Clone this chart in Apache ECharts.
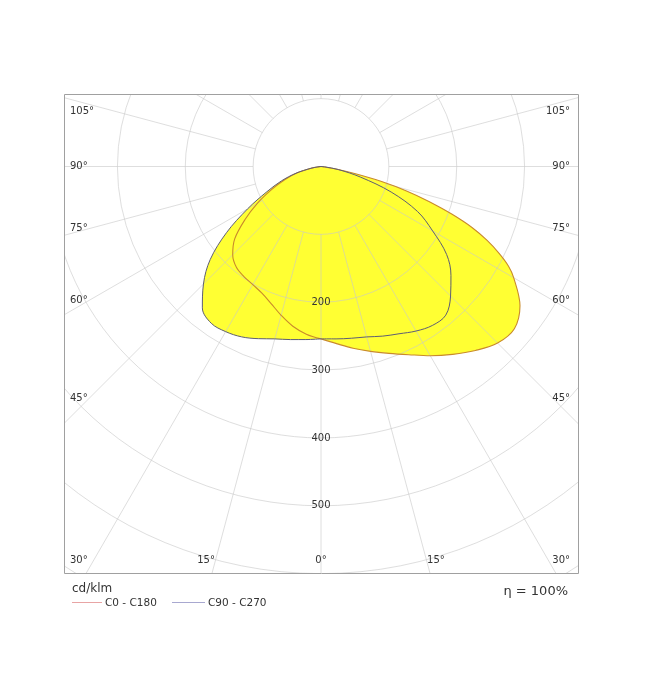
<!DOCTYPE html>
<html><head><meta charset="utf-8">
<script src="https://cdn.jsdelivr.net/npm/echarts@6/dist/echarts.min.js"></script>
<style>html,body{margin:0;padding:0;background:#fff}#c{width:670px;height:692px}</style>
</head><body><div id="c"></div>
<script>
// ---- data (cd/klm), gamma angle from nadir in degrees ----
const c0Angles   = [0,5,10,15,20,25,30,35,40,45,50,55,60,62,64,66,68,70,72,74,76,78,80,85,90,180];
const c0Values   = [254,262,272,282,293,306,322,338,354,368,372,358,328,313,292,268,240,205,168,132,92,52,24,3,0,0];
const c180Angles = [0,5,10,15,20,25,30,35,40,45,50,55,60,65,70,75,80,85,90,180];
const c180Values = [254,248,239,227,215,206,201,198,194,184,166,137,108,80,57,36,14,2,0,0];
const c90Angles  = [0,5,10,15,20,25,30,35,40,45,50,55,60,65,70,75,80,85,90,180];
const c90Values  = [254,255,257,260,266,272,280,286,286,270,250,226,190,157,110,60,26,5,0,0];
const c270Angles = [0,5,10,15,20,25,30,35,40,45,50,55,60,65,70,75,80,85,90,180];
const c270Values = [254,256,259,263,270,277,281,282,272,245,213,170,125,88,62,38,15,3,0,0];
const seriesNames = ['C0 - C180','C90 - C270'];
const radiusLabels = [200,300,400,500];
const sideAngles = [105,90,75,60,45,30];
const bottomAngles = [15,0];
const efficiency = 'η = 100%';
const unitLabel = 'cd/klm';

// ---- layout ----
const cx = 321, cy = 166.5, R = 475, rMax = 700;
const frame = {x:64, y:94, w:514, h:479};
const FONT = '"DejaVu Sans", Verdana, sans-serif';

function loop(rightA, rightV, leftA, leftV){
  const pts = [];
  for (let i=0;i<rightA.length;i++) pts.push([rightV[i], rightA[i]]);
  for (let i=leftA.length-1;i>=0;i--) pts.push([leftV[i], 360-leftA[i]]);
  return pts;
}
const loopA = loop(c0Angles,c0Values,c180Angles,c180Values);
const loopB = loop(c90Angles,c90Values,c270Angles,c270Values);

const gridColor = 'rgba(200,200,200,0.6)';
const yellow = '#ffff33';

const graphics = [];
[[0,0,670,frame.y],[0,frame.y+frame.h,670,692],[0,0,frame.x,692],[frame.x+frame.w,0,670,692]].forEach(r=>{
  graphics.push({type:'rect', z:100, silent:true, shape:{x:r[0],y:r[1],width:r[2]-r[0],height:r[3]-r[1]}, style:{fill:'#fff'}});
});
graphics.push({type:'rect', z:101, silent:true, shape:{x:frame.x+0.5,y:frame.y+0.5,width:frame.w,height:frame.h}, style:{fill:'none',stroke:'#a0a0a0',lineWidth:1}});
sideAngles.forEach(a=>{
  let y = cy + 232/Math.tan(a*Math.PI/180);
  y = Math.max(111, Math.min(560, y));
  graphics.push({type:'text', z:102, style:{text:a+'°', x:70, y:y, font:'10px '+FONT, fill:'#333', textAlign:'left', textVerticalAlign:'middle'}});
  graphics.push({type:'text', z:102, style:{text:a+'°', x:570, y:y, font:'10px '+FONT, fill:'#333', textAlign:'right', textVerticalAlign:'middle'}});
});
bottomAngles.forEach(a=>{
  const dx = 429*Math.tan(a*Math.PI/180);
  const xs = a===0 ? [cx] : [cx-dx, cx+dx];
  xs.forEach(x=>graphics.push({type:'text', z:102, style:{text:a+'°', x:x, y:560, font:'10px '+FONT, fill:'#333', textAlign:'center', textVerticalAlign:'middle'}}));
});
graphics.push({type:'text', z:102, style:{text:unitLabel, x:72, y:589, font:'12px '+FONT, fill:'#333', textAlign:'left', textVerticalAlign:'middle'}});
graphics.push({type:'line', z:102, shape:{x1:72,y1:602.5,x2:102,y2:602.5}, style:{stroke:'#e8a4a4',lineWidth:1}});
graphics.push({type:'text', z:102, style:{text:seriesNames[0], x:105, y:603, font:'10.5px '+FONT, fill:'#333', textAlign:'left', textVerticalAlign:'middle'}});
graphics.push({type:'line', z:102, shape:{x1:172,y1:602.5,x2:205,y2:602.5}, style:{stroke:'#a8a8d0',lineWidth:1}});
graphics.push({type:'text', z:102, style:{text:seriesNames[1], x:208, y:603, font:'10.5px '+FONT, fill:'#333', textAlign:'left', textVerticalAlign:'middle'}});
graphics.push({type:'text', z:102, style:{text:efficiency, x:568, y:592, font:'13px '+FONT, fill:'#333', textAlign:'right', textVerticalAlign:'middle'}});

const chart = echarts.init(document.getElementById('c'), null, {renderer:'canvas'});
chart.setOption({
  animation:false,
  backgroundColor:'#fff',
  polar:[
    {center:[cx,cy], radius:R},
    {center:[cx,cy], radius:[R*100/rMax, R]}
  ],
  angleAxis:[
    {polarIndex:0, type:'value', min:0, max:360, startAngle:270, clockwise:false, z:5,
     axisLine:{show:false}, axisTick:{show:false}, axisLabel:{show:false}, splitLine:{show:false}},
    {polarIndex:1, type:'value', min:0, max:360, interval:15, startAngle:270, clockwise:false, z:5,
     axisLine:{show:false}, axisTick:{show:false}, axisLabel:{show:false},
     splitLine:{show:true, lineStyle:{color:gridColor, width:1}}}
  ],
  radiusAxis:[
    {polarIndex:0, type:'value', min:0, max:rMax, interval:100, z:5,
     axisLine:{show:false}, axisTick:{show:false},
     axisLabel:{show:true, margin:0, align:'center', verticalAlign:'middle', color:'#333', fontSize:10, fontFamily:FONT,
       formatter:v=>radiusLabels.indexOf(v)>=0 ? String(v) : ''},
     splitLine:{show:true, lineStyle:{color:gridColor, width:1}}},
    {polarIndex:1, type:'value', min:0, max:1, show:false}
  ],
  series:[
    {type:'line', coordinateSystem:'polar', polarIndex:0, data:loopA, smooth:0.35, symbol:'none', silent:true, z:2,
     lineStyle:{width:0, opacity:0}, areaStyle:{color:yellow, opacity:1}},
    {type:'line', coordinateSystem:'polar', polarIndex:0, data:loopB, smooth:0.35, symbol:'none', silent:true, z:2,
     lineStyle:{width:0, opacity:0}, areaStyle:{color:yellow, opacity:1}},
    {name:seriesNames[0], type:'line', coordinateSystem:'polar', polarIndex:0, data:loopA, smooth:0.35, symbol:'none', z:8,
     lineStyle:{color:'#c98a2c', width:1.1}},
    {name:seriesNames[1], type:'line', coordinateSystem:'polar', polarIndex:0, data:loopB, smooth:0.35, symbol:'none', z:8,
     lineStyle:{color:'#5e5e74', width:1}}
  ],
  graphic:graphics
});
</script></body></html>
